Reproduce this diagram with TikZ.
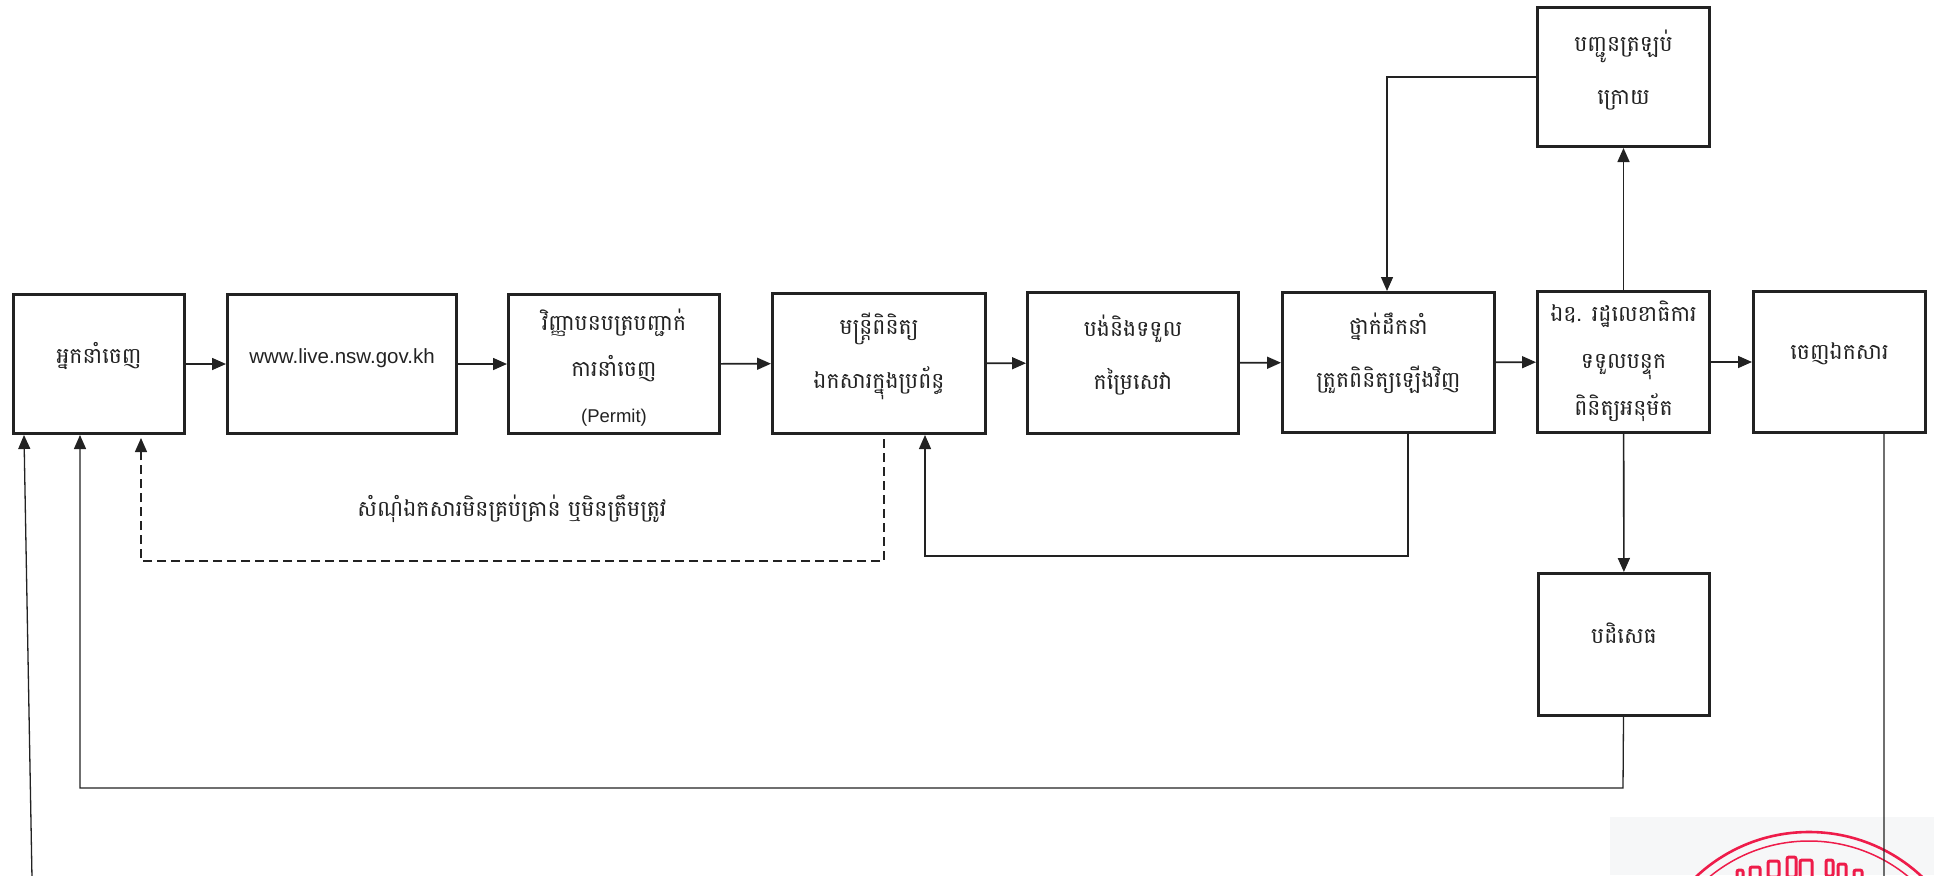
\documentclass[tikz,border=0pt]{standalone}
\usepackage{fontspec}
\usepackage{xcolor}
\usetikzlibrary{arrows.meta}
\newfontfamily\khfont[Script=Khmer]{Battambang}
\setsansfont{Liberation Sans}
\definecolor{inkline}{HTML}{222222}
\definecolor{stampred}{HTML}{EE1C4A}
\definecolor{scanbg}{HTML}{F6F7F8}
\newcommand{\khtext}{\khfont\fontsize{22}{22}\selectfont\setlength{\lineskiplimit}{-100pt}}
\tikzset{
	flowbox/.style={draw=inkline,line width=3pt,align=center,text=inkline,inner sep=0pt,font=\khtext},
	rowarrow/.style={->,draw=inkline,line width=1.6pt},
	backarrow/.style={->,draw=inkline,line width=1.3pt}
}
\begin{document}
\begin{tikzpicture}[x=1pt,y=-1pt,>={Triangle[length=14pt,width=12pt]}]
	\useasboundingbox (0,0) rectangle (1934,875);
	\clip (0,0) rectangle (1934,875);
	\fill[scanbg] (1610,817) rectangle (1934,875);
	\draw[stampred,line width=2.6pt] (1809,997) circle (165);
	\draw[stampred,line width=1.5pt] (1809,997) circle (156);
	\foreach \bx/\by/\bw/\bh in {1737/870/6/8,1750/867/10/12,1768/861/11/16,1787/857/9/20,1800/860/12/18,1826/860/7/16,1838/864/8/14,1854/870/8/8}
		\draw[stampred,line width=3pt,rounded corners=2pt] (\bx,\by) rectangle ++(\bw,\bh);

	\node[flowbox,minimum width=171,minimum height=139] (exporter) at (99,364) {អ្នកនាំចេញ\\[0pt]\mbox{}};
	\node[flowbox,minimum width=229,minimum height=139] (portal) at (342,364) {\sffamily\fontsize{20.5}{20.5}\selectfont www.live.nsw.gov.kh\\[-6pt]\mbox{}};
	\node[flowbox,minimum width=211,minimum height=139] (permit) at (614,364) {\mbox{}\\[6pt]វិញ្ញាបនបត្របញ្ជាក់\\[24pt]ការនាំចេញ\\[24pt]{\sffamily\fontsize{18.5}{18.5}\selectfont (Permit)}};
	\node[flowbox,minimum width=213,minimum height=140] (officer) at (879,363.5) {មន្ត្រីពិនិត្យ\\[32pt]ឯកសារក្នុងប្រព័ន្ធ\\[4pt]\mbox{}};
	\node[flowbox,minimum width=211,minimum height=141] (payment) at (1133,363) {បង់និងទទួល\\[31pt]កម្រៃសេវា\\[0pt]\mbox{}};
	\node[flowbox,minimum width=212,minimum height=140] (leader) at (1388.5,362.5) {ថ្នាក់ដឹកនាំ\\[31pt]ត្រួតពិនិត្យឡើងវិញ\\[3pt]\mbox{}};
	\node[flowbox,minimum width=172,minimum height=141] (secretary) at (1623.5,362) {ឯឧ. រដ្ឋលេខាធិការ\\[25pt]ទទួលបន្ទុក\\[25pt]ពិនិត្យអនុម័ត\\[-14pt]\mbox{}};
	\node[flowbox,minimum width=172,minimum height=141] (issue) at (1839.5,362) {ចេញឯកសារ\\[-1pt]\mbox{}};
	\node[flowbox,minimum width=172,minimum height=139] (sendback) at (1623.5,77) {បញ្ជូនត្រឡប់\\[31pt]ក្រោយ\\[-2pt]\mbox{}};
	\node[flowbox,minimum width=171,minimum height=142] (reject) at (1624,644.5) {បដិសេធ\\[1pt]\mbox{}};
	\node[text=inkline,inner sep=0pt,font=\khtext] (notice) at (512,509) {សំណុំឯកសារមិនគ្រប់គ្រាន់ ឬមិនត្រឹមត្រូវ};

	\draw[rowarrow] (exporter) -- (portal);
	\draw[rowarrow] (portal) -- (permit);
	\draw[rowarrow] (permit) -- (officer);
	\draw[rowarrow] (officer) -- (payment);
	\draw[rowarrow] (payment) -- (leader);
	\draw[rowarrow] (leader) -- (secretary);
	\draw[rowarrow] (secretary) -- (issue);
	\draw[rowarrow] (secretary) -- (sendback);
	\draw[rowarrow] (secretary) -- (reject);

	\coordinate (sendbackTurn) at (1387,77);
	\draw[backarrow] (sendback) -- (sendbackTurn) -- (sendbackTurn |- leader.north);
	\coordinate (leaderTurnA) at (1408,556);
	\coordinate (leaderTurnB) at (925,556);
	\draw[backarrow] (leaderTurnA |- leader.south) -- (leaderTurnA) -- (leaderTurnB) -- (leaderTurnB |- officer.south);
	\coordinate (dashTurnA) at (884,561);
	\coordinate (dashTurnB) at (141,561);
	\draw[backarrow,dashed,dash pattern=on 9pt off 5pt,shorten <=4pt,shorten >=3pt] (dashTurnA |- officer.south) -- (dashTurnA) -- (dashTurnB) -- (dashTurnB |- exporter.south);
	\coordinate (rejectTurnA) at (1623,788);
	\coordinate (rejectTurnB) at (80,788);
	\draw[backarrow] (reject) -- (rejectTurnA) -- (rejectTurnB) -- (rejectTurnB |- exporter.south);
	\coordinate (issueTurnA) at (1884,878);
	\coordinate (issueTurnB) at (32,878);
	\coordinate (issueTip) at (24,435);
	\draw[backarrow] (issueTurnA |- issue.south) -- (issueTurnA) -- (issueTurnB) -- (issueTip);
\end{tikzpicture}
\end{document}
